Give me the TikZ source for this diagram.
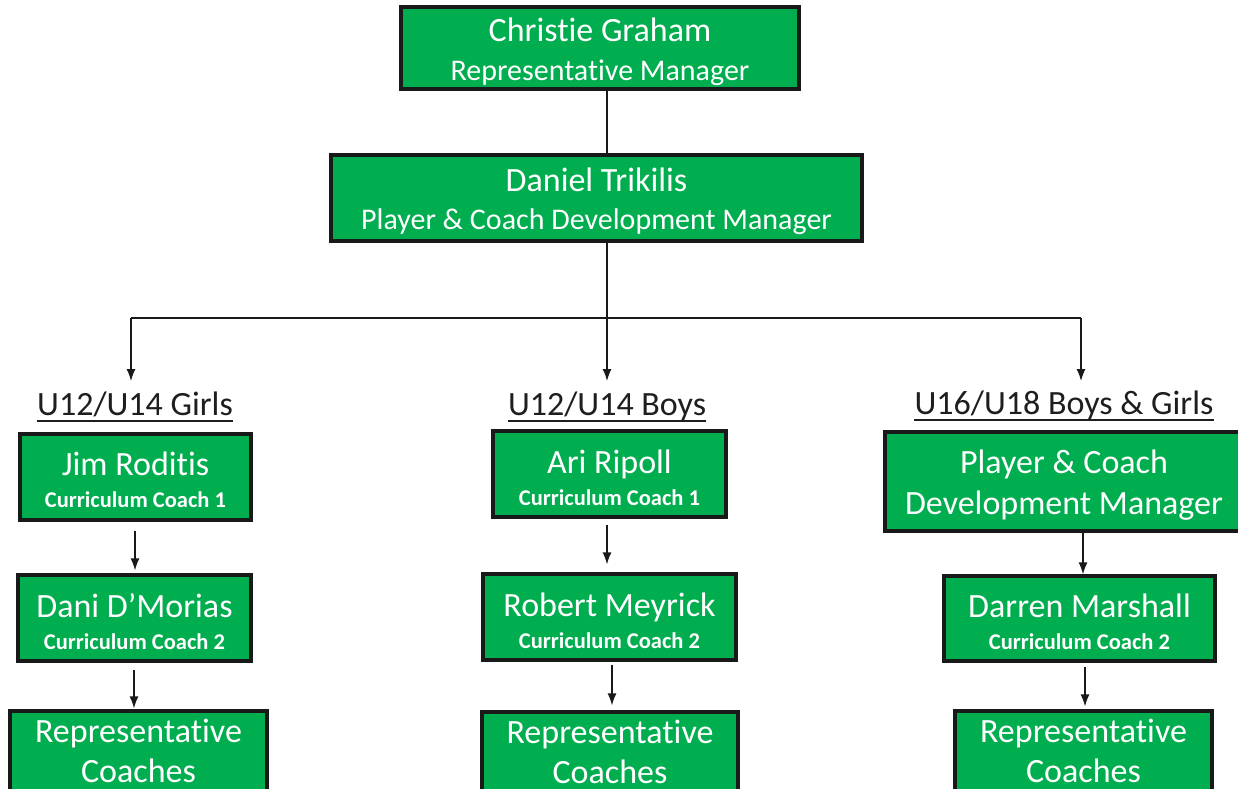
\documentclass[tikz,border=0pt]{standalone}
\usepackage{fontspec}
\setmainfont{Carlito}[Ligatures={NoCommon}]
\usetikzlibrary{arrows.meta}
\definecolor{boxgreen}{RGB}{0,173,79}
\definecolor{edge}{RGB}{25,25,25}
\definecolor{headtext}{RGB}{30,30,30}
\newcommand{\fBig}{\fontsize{34}{40}\selectfont}
\newcommand{\fMid}{\fontsize{30}{36}\selectfont}
\newcommand{\fSmall}{\fontsize{22.5}{27}\selectfont\bfseries}
\newcommand{\up}[1]{\rule{0pt}{#1}}
\tikzset{
  box/.style={draw=edge, line width=3.3pt, fill=boxgreen, text=white, align=center, inner sep=0pt, font=\fBig},
  head/.style={text=headtext, inner sep=0pt, font=\fBig, anchor=base},
  ul/.style={draw=headtext, line width=2pt},
  conn/.style={draw=edge, line width=1.3pt},
  arr/.style={conn, -{Latex[length=12pt,width=9pt]}}
}
\begin{document}
\begin{tikzpicture}[x=1pt,y=-1pt]
\clip (0,0) rectangle (1238,788);
\fill[white] (0,0) rectangle (1238,788);
% top
\node[box, minimum width=398, minimum height=82] (cg) at (600,48) {\up{32pt}Christie Graham\\[-1pt]{\fMid Representative Manager}};
\node[box, minimum width=531, minimum height=86] (dt) at (596.5,198) {\up{31pt}Daniel Trikilis\\[-2pt]{\fMid Player \& Coach Development Manager}};
% bus
\coordinate (bus) at (607,318);
\coordinate (busL) at (131,318);
\coordinate (busR) at (1081,318);
\draw[conn] (cg.south -| bus) -- (dt.north -| bus);
\draw[conn] (dt.south -| bus) -- (bus);
\draw[conn] (busL) -- (busR);
% headings
\node[head] (hg) at (135,415) {U12/U14 Girls};
\node[head] (hb) at (607,415) {U12/U14 Boys};
\node[head] (hr) at (1064,414) {U16/U18 Boys \& Girls};
\draw[ul] ([yshift=-6pt]hg.base west) -- ([yshift=-6pt]hg.base east);
\draw[ul] ([yshift=-6pt]hb.base west) -- ([yshift=-6pt]hb.base east);
\draw[ul] ([yshift=-6pt]hr.base west) -- ([yshift=-6pt]hr.base east);
\coordinate (tg) at (131,381);
\coordinate (tb) at (607,381);
\coordinate (tr) at (1081,381);
\draw[arr] (busL) -- (tg);
\draw[arr] (bus) -- (tb);
\draw[arr] (busR) -- (tr);
% girls
\node[box, minimum width=231, minimum height=86] (jim) at (135.5,477) {\up{30pt}Jim Roditis\\[-8pt]{\fSmall Curriculum Coach 1}};
\node[box, minimum width=233, minimum height=86] (dani) at (134.5,618) {\up{31pt}Dani D’Morias\\[-8pt]{\fSmall Curriculum Coach 2}};
\node[box, minimum width=257, minimum height=80] (repg) at (138.5,751) {Representative\\[0pt]Coaches};
\draw[arr] ([yshift=-9pt]jim.south -| 135,0) -- ([yshift=3pt]dani.north -| 135,0);
\draw[arr] ([yshift=-7pt]dani.south -| 134,0) -- ([yshift=1pt]repg.north -| 134,0);
% boys
\node[box, minimum width=233, minimum height=86] (ari) at (609.5,474) {\up{31pt}Ari Ripoll\\[-8pt]{\fSmall Curriculum Coach 1}};
\node[box, minimum width=253, minimum height=86] (rob) at (609.5,617) {\up{31pt}Robert Meyrick\\[-8pt]{\fSmall Curriculum Coach 2}};
\node[box, minimum width=256, minimum height=80] (repb) at (610,752) {Representative\\[0pt]Coaches};
\draw[arr] ([yshift=-6pt]ari.south -| 607,0) -- ([yshift=8pt]rob.north -| 607,0);
\draw[arr] ([yshift=-3pt]rob.south -| 612,0) -- ([yshift=5pt]repb.north -| 612,0);
% right
\node[box, minimum width=358, minimum height=99] (pc) at (1064,481.5) {\up{30pt}Player \& Coach\\[1pt]Development Manager};
\node[box, minimum width=271, minimum height=85] (dm) at (1079.5,618.5) {\up{31pt}Darren Marshall\\[-8pt]{\fSmall Curriculum Coach 2}};
\node[box, minimum width=257, minimum height=80] (repr) at (1083.5,751) {Representative\\[0pt]Coaches};
\draw[arr] (pc.south -| 1083,0) -- (dm.north -| 1083,0);
\draw[arr] ([yshift=-4pt]dm.south -| 1085,0) -- ([yshift=3pt]repr.north -| 1085,0);
\end{tikzpicture}
\end{document}
